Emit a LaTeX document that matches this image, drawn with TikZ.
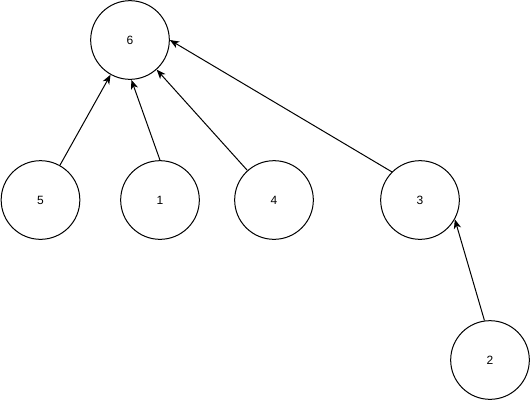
\documentclass[tikz,border=0pt]{standalone}
\usepackage{fontspec}
\setmainfont{Liberation Sans}
\usetikzlibrary{arrows.meta}
\begin{document}
\begin{tikzpicture}[x=0.75pt,y=-0.75pt,
  vnode/.style={draw=black,circle,line width=0.75pt,inner sep=0pt,minimum size=59pt,font=\fontsize{9}{11}\selectfont},
  edge/.style={draw=black,line width=0.75pt,-{Stealth[length=7pt,width=5.5pt,inset=2pt]}}]
\useasboundingbox (0,0) rectangle (531,401);
\node[vnode] (n6) at (130,40) {6};
\node[vnode] (n5) at (40.5,200) {5};
\node[vnode] (n1) at (160,200) {1};
\node[vnode] (n4) at (274,200) {4};
\node[vnode] (n3) at (420,200) {3};
\node[vnode] (n2) at (490,360) {2};
\draw[edge] (n5) -- (n6);
\draw[edge] (n1.north) -- (n6.-88);
\draw[edge] (n4) -- (n6);
\draw[edge] (n3.north west) -- (n6.east);
\draw[edge] (n2.98) -- (n3.-29);
\end{tikzpicture}
\end{document}
